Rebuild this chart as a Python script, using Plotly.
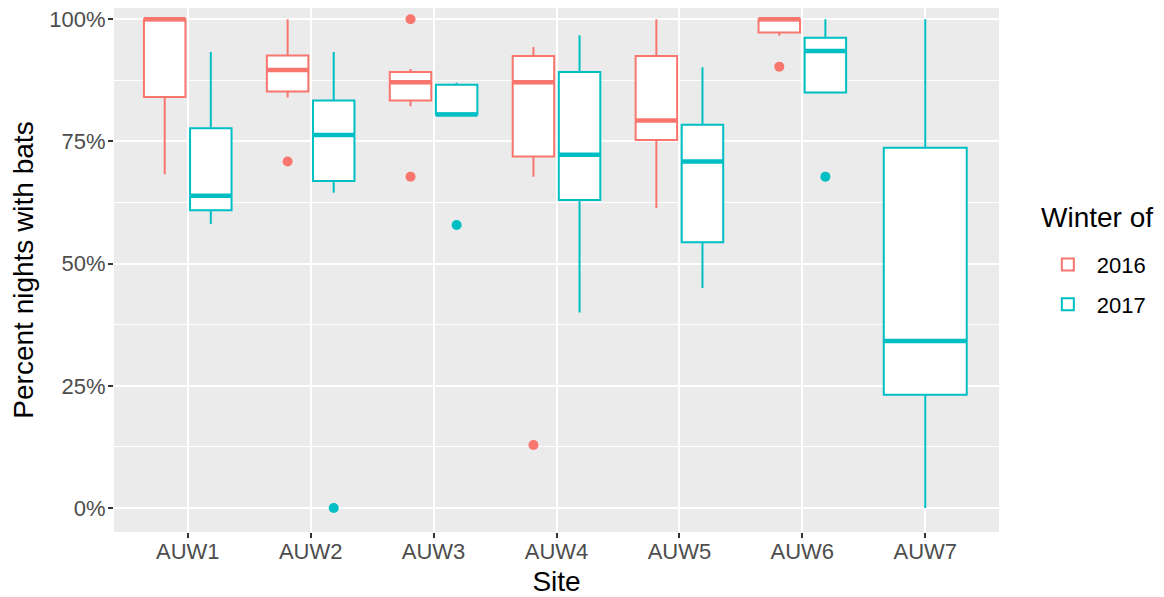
import plotly.graph_objects as go

# Site labels
SITES = ["AUW1", "AUW2", "AUW3", "AUW4", "AUW5", "AUW6", "AUW7"]
WINTERS = ["2016", "2017"]

# Box stats (fraction of nights), None = no data
LOW_2016 = [0.683, 0.840, 0.822, 0.678, 0.614, 0.966, None]
Q1_2016 = [0.841, 0.852, 0.834, 0.719, 0.753, 0.973, None]
MED_2016 = [1.000, 0.896, 0.871, 0.871, 0.793, 1.000, None]
Q3_2016 = [1.000, 0.926, 0.892, 0.925, 0.925, 1.000, None]
HIGH_2016 = [1.000, 1.000, 0.898, 0.943, 1.000, 1.000, None]

LOW_2017 = [0.581, 0.645, 0.805, 0.400, 0.450, 0.850, 0.000]
Q1_2017 = [0.609, 0.669, 0.805, 0.630, 0.544, 0.850, 0.232]
MED_2017 = [0.639, 0.763, 0.805, 0.723, 0.709, 0.935, 0.342]
Q3_2017 = [0.777, 0.834, 0.866, 0.892, 0.784, 0.962, 0.737]
HIGH_2017 = [0.933, 0.933, 0.870, 0.967, 0.902, 1.000, 1.000]

# Outlying points
OUT_SITE_2016 = ["AUW2", "AUW3", "AUW3", "AUW4", "AUW6"]
OUT_VAL_2016 = [0.709, 1.000, 0.678, 0.129, 0.903]
OUT_SITE_2017 = ["AUW2", "AUW3", "AUW6"]
OUT_VAL_2017 = [0.000, 0.579, 0.678]

COLORS = {"2016": "#F8766D", "2017": "#00BFC4"}
FONT = "Liberation Sans, Arial, sans-serif"

STATS = {
    "2016": (LOW_2016, Q1_2016, MED_2016, Q3_2016, HIGH_2016),
    "2017": (LOW_2017, Q1_2017, MED_2017, Q3_2017, HIGH_2017),
}
OUTLIERS = {
    "2016": (OUT_SITE_2016, OUT_VAL_2016),
    "2017": (OUT_SITE_2017, OUT_VAL_2017),
}

# layout geometry (px) - page body adds 8px margin, so figure is a bit smaller
W, H = 1156, 589
M_L, M_R, M_T, M_B = 106, 165, 0, 65
X_RANGE = [0.4, 7.6]
PX_PER_X = (W - M_L - M_R) / (X_RANGE[1] - X_RANGE[0])
DODGE = 0.75  # total dodge width, like ggplot
BOX_FRAC = 0.9

fig = go.Figure()


# Work out where each box sits on the axis (ggplot-style dodge)
def box_pos(i, winter):
    present = [w for w in WINTERS if STATS[w][2][i] is not None]
    n = len(present)
    slot = DODGE / n
    k = present.index(winter)
    x = (i + 1) - DODGE / 2 + slot * (k + 0.5)
    return x, slot * BOX_FRAC


shown = set()
for i, site in enumerate(SITES):
    for winter in WINTERS:
        low, q1, med, q3, high = STATS[winter]
        if med[i] is None:
            continue
        x, w = box_pos(i, winter)
        col = COLORS[winter]
        fig.add_trace(go.Box(
            x=[x], q1=[q1[i]], median=[med[i]], q3=[q3[i]],
            lowerfence=[low[i]], upperfence=[high[i]],
            width=w, whiskerwidth=0,
            fillcolor="white", line=dict(color=col, width=2),
            name=winter, legendgroup=winter,
            showlegend=winter not in shown,
            boxpoints=False, hoverinfo="skip",
        ))
        shown.add(winter)
        # thick median bar (line symbols are drawn 1.4x the marker size)
        fig.add_trace(go.Scatter(
            x=[x], y=[med[i]], mode="markers",
            marker=dict(symbol="line-ew", size=w * PX_PER_X / 1.4,
                        line=dict(color=col, width=4.5)),
            showlegend=False, hoverinfo="skip", legendgroup=winter,
        ))

# outliers
for winter in WINTERS:
    sites, vals = OUTLIERS[winter]
    xs = [box_pos(SITES.index(s), winter)[0] for s in sites]
    fig.add_trace(go.Scatter(
        x=xs, y=vals, mode="markers",
        marker=dict(color=COLORS[winter], size=10),
        showlegend=False, hoverinfo="skip", legendgroup=winter,
    ))

fig.update_layout(
    width=W, height=H,
    margin=dict(l=M_L, r=M_R, t=M_T, b=M_B),
    plot_bgcolor="#EBEBEB", paper_bgcolor="white",
    font=dict(family=FONT, color="black"),
    boxmode="overlay",
    legend=dict(
        font=dict(size=22, color="black"),
        x=1.045, xanchor="left", y=0.55, yanchor="top",
        tracegroupgap=8, itemwidth=48, bgcolor="white",
    ),
    annotations=[dict(
        text="Winter of", x=1.045, y=0.60, xref="paper", yref="paper",
        xanchor="left", yanchor="middle", showarrow=False,
        font=dict(size=28, color="black"),
    )],
)

fig.update_xaxes(
    range=X_RANGE, tickvals=list(range(1, len(SITES) + 1)), ticktext=SITES,
    showgrid=True, gridcolor="white", gridwidth=2, zeroline=False,
    ticks="outside", ticklen=5, tickwidth=2, tickcolor="#333333",
    tickfont=dict(size=22, color="#4D4D4D"), ticklabelstandoff=-5,
    title=dict(text="Site", font=dict(size=28, color="black"), standoff=9),
)
fig.update_yaxes(
    range=[-0.049, 1.023], tickvals=[0, 0.25, 0.5, 0.75, 1.0],
    tickformat=".0%", ticklabeloverflow="allow", ticklabelstandoff=-2,
    showgrid=True, gridcolor="white", gridwidth=2, zeroline=False,
    minor=dict(tickvals=[0.125, 0.375, 0.625, 0.875], showgrid=True,
               gridcolor="white", gridwidth=1, ticks=""),
    ticks="outside", ticklen=5, tickwidth=2, tickcolor="#333333",
    tickfont=dict(size=22, color="#4D4D4D"),
    title=dict(text="Percent nights with bats", font=dict(size=28, color="black"),
               standoff=16),
)

fig.write_html("out.html")
